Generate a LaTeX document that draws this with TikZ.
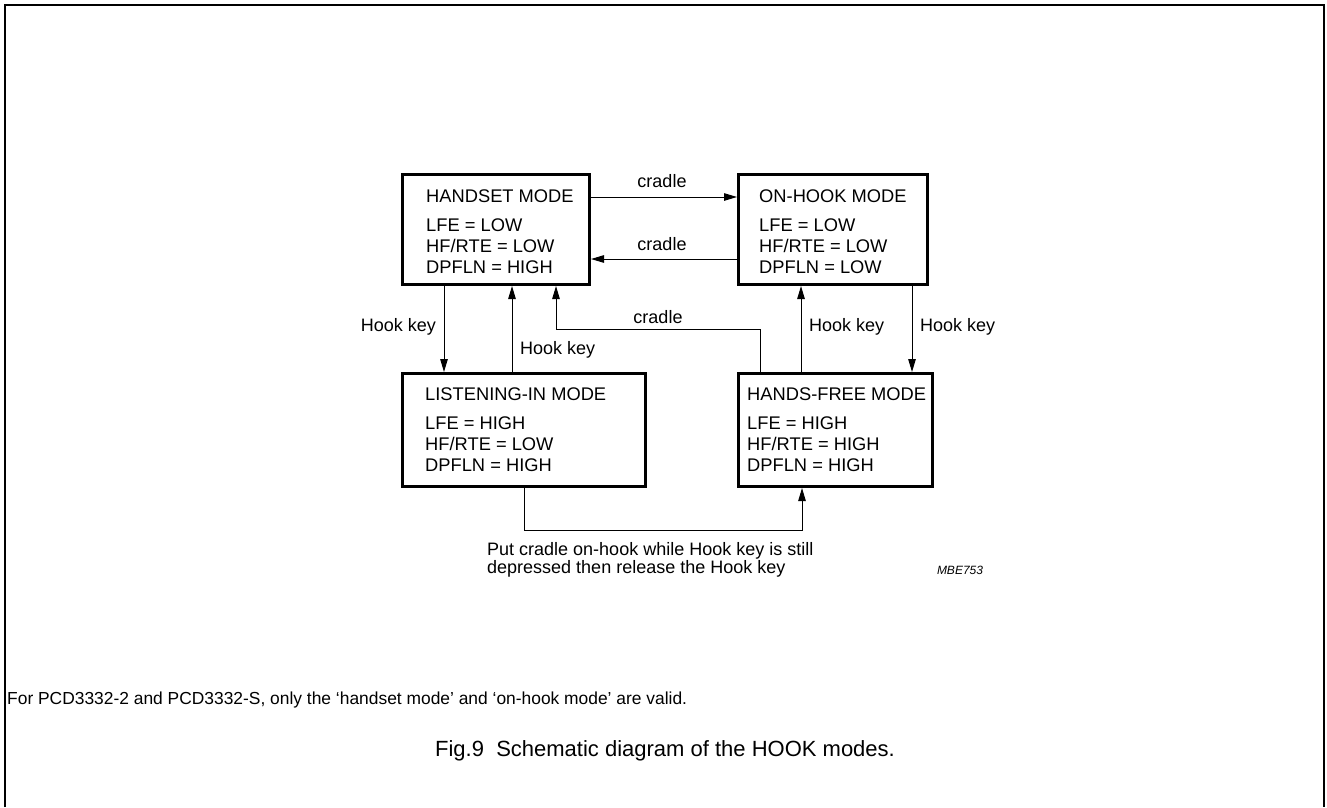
\documentclass[tikz,border=0pt]{standalone}
\usepackage{fontspec}
\setmainfont{Liberation Sans}
\usetikzlibrary{arrows.meta}
\begin{document}
\begin{tikzpicture}[x=1pt,y=-1pt,
  modebox/.style={draw, line width=3pt, inner sep=0pt, anchor=north west},
  modetxt/.style={anchor=north west, align=left, inner sep=0pt, font=\fontsize{18.3}{21}\selectfont},
  lbl/.style={inner sep=0pt, font=\fontsize{18}{21}\selectfont},
  conn/.style={line width=1pt, -{Triangle[length=13pt,width=7.5pt]}},
  frameline/.style={line width=2pt}]
\useasboundingbox (0,0) rectangle (1327,807);
\draw[frameline] (5,807) -- (5,5) -- (1324,5) -- (1324,807);

% mode boxes
\node[modebox, minimum width=187pt, minimum height=110pt] (hs) at (401,173) {};
\node[modebox, minimum width=189pt, minimum height=110pt] (oh) at (737,173) {};
\node[modebox, minimum width=243pt, minimum height=113pt] (li) at (401,372) {};
\node[modebox, minimum width=194pt, minimum height=113pt] (hf) at (737,372) {};

\node[modetxt] (hst) at ([xshift=25pt,yshift=-17pt]hs.north west) {HANDSET MODE\\[8pt]LFE = LOW\\HF/RTE = LOW\\DPFLN = HIGH};
\node[modetxt] (oht) at ([xshift=22pt,yshift=-17pt]oh.north west) {ON-HOOK MODE\\[8pt]LFE = LOW\\HF/RTE = LOW\\DPFLN = LOW};
\node[modetxt] (lit) at ([xshift=24pt,yshift=-16pt]li.north west) {LISTENING-IN MODE\\[8pt]LFE = HIGH\\HF/RTE = LOW\\DPFLN = HIGH};
\node[modetxt] (hft) at ([xshift=10pt,yshift=-16pt]hf.north west) {HANDS-FREE MODE\\[8pt]LFE = HIGH\\HF/RTE = HIGH\\DPFLN = HIGH};

% cradle arrows between top boxes
\draw[conn] ([yshift=-24pt]hs.north east) -- ([yshift=-24pt]oh.north west);
\node[lbl, anchor=south] (c1) at (662,188) {cradle};
\draw[conn] ([yshift=-86pt]oh.north west) -- ([yshift=-86pt]hs.north east);
\node[lbl, anchor=south] (c2) at (662,251) {cradle};

% left column
\draw[conn] (444,0 |- hs.south) -- (444,0 |- li.north);
\node[lbl, anchor=east] (k1) at (436,327) {Hook key};
\draw[conn] (512,0 |- li.north) -- (512,0 |- hs.south);
\node[lbl, anchor=west] (k2) at (520,350) {Hook key};

% cradle from hands-free to handset
\coordinate (ca) at (760,329);
\coordinate (cb) at (556,329);
\draw[conn] (760,0 |- hf.north) -- (ca) -- (cb) -- (556,0 |- hs.south);
\node[lbl, anchor=south] (c3) at (658,324) {cradle};

% right column
\draw[conn] (801,0 |- hf.north) -- (801,0 |- oh.south);
\node[lbl, anchor=west] (k3) at (809,327) {Hook key};
\draw[conn] (912,0 |- oh.south) -- (912,0 |- hf.north);
\node[lbl, anchor=west] (k4) at (920,327) {Hook key};

% bottom path
\coordinate (ba) at (524,530);
\coordinate (bb) at (802,530);
\draw[conn] (524,0 |- li.south) -- (ba) -- (bb) -- (802,0 |- hf.south);
\node[anchor=north west, align=left, inner sep=0pt, font=\fontsize{18}{18.5}\selectfont] (note) at (487,542) {Put cradle on-hook while Hook key is still\\depressed then release the Hook key};

\node[inner sep=0pt, font=\fontsize{12}{14}\selectfont\itshape] (mbe) at (960,570) {MBE753};

\node[inner sep=0pt, anchor=west, font=\fontsize{17.4}{20}\selectfont] (foot) at (7,700) {For PCD3332-2 and PCD3332-S, only the ‘handset mode’ and ‘on-hook mode’ are valid.};
\node[inner sep=0pt, font=\fontsize{22}{26}\selectfont] (cap) at (665,751) {Fig.9\ \ Schematic diagram of the HOOK modes.};
\end{tikzpicture}
\end{document}
